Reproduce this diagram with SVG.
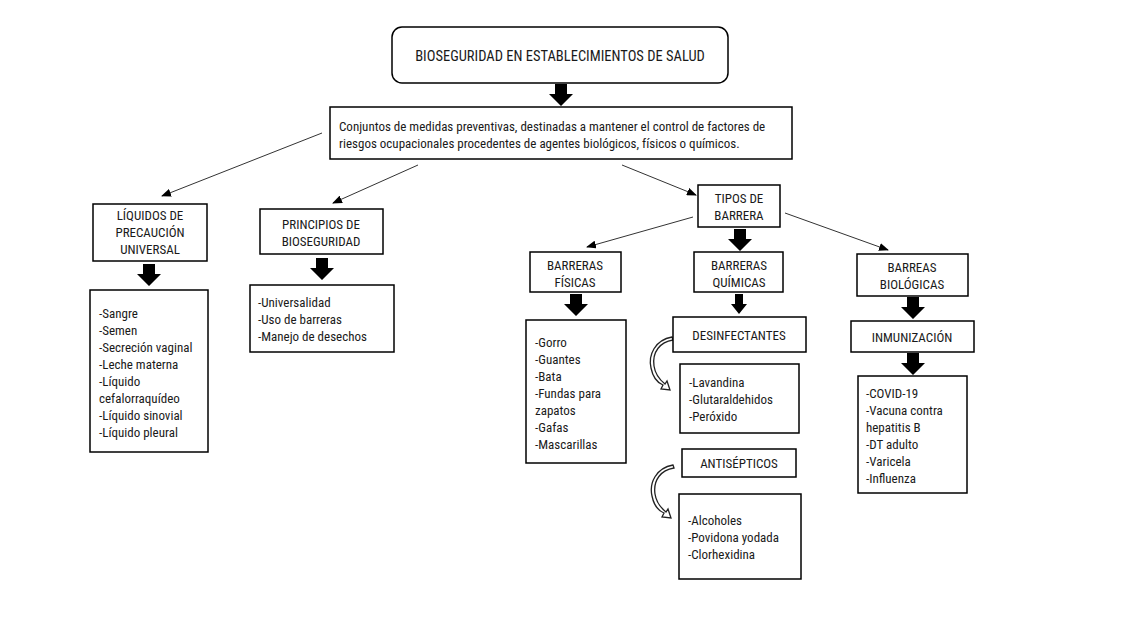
<svg xmlns="http://www.w3.org/2000/svg" width="1138" height="640" viewBox="0 0 1138 640">
<defs>
<style>
.box{fill:#fff;stroke:#000;stroke-width:1.5}
.t{font-family:"Liberation Sans Narrow","Roboto Condensed","Liberation Sans",sans-serif;font-size:13px;fill:#1a1a1a}
.big{font-size:14.5px}
.c{text-anchor:middle}
.ln{stroke:#333;stroke-width:1;fill:none}
.blk{fill:#000}
.curl{fill:#fff;stroke:#222;stroke-width:1.3}
</style>
<marker id="ah" markerWidth="10" markerHeight="8" refX="9" refY="4" orient="auto" markerUnits="userSpaceOnUse">
<path d="M0,0 L10,4 L0,8 Z" fill="#000"/>
</marker>
<path id="barrow" d="M-6,0 H6 V10 H12 L0,22 L-12,10 H-6 Z"/>
<path id="curl" d="M0,0 C-17,3 -24,18 -21,31 C-19,41 -14,46 -9,48 L-11,52 L-2,53 L-5,44 L-7,47 C-12,43 -17,36 -18,29 C-20,15 -12,5 1,3 Z"/>
</defs>
<rect width="1138" height="640" fill="#fff"/>

<g id="connectors">
<line class="ln" x1="322" y1="133" x2="162" y2="196" marker-end="url(#ah)"/>
<line class="ln" x1="418" y1="165" x2="333" y2="203" marker-end="url(#ah)"/>
<line class="ln" x1="622" y1="165" x2="696" y2="195" marker-end="url(#ah)"/>
<line class="ln" x1="693" y1="217" x2="587" y2="247" marker-end="url(#ah)"/>
<line class="ln" x1="785" y1="213" x2="888" y2="250" marker-end="url(#ah)"/>
<use href="#barrow" class="blk" x="561" y="84"/>
<use href="#barrow" class="blk" x="149" y="264"/>
<use href="#barrow" class="blk" x="322" y="258"/>
<use href="#barrow" class="blk" x="740" y="229"/>
<use href="#barrow" class="blk" x="576" y="294"/>
<path class="blk" d="M735,294 H743 V304 H747 L739,314 L731,304 H735 Z"/>
<use href="#barrow" class="blk" x="913" y="297"/>
<use href="#barrow" class="blk" x="913" y="353"/>
<use href="#curl" class="curl" x="672" y="337"/>
<use href="#curl" class="curl" x="673" y="465"/>
</g>

<g id="n-title">
<rect class="box" x="392" y="27" width="336" height="56" rx="10"/>
<text class="t c big" x="560" y="61">BIOSEGURIDAD EN ESTABLECIMIENTOS DE SALUD</text>
</g>

<g id="n-def">
<rect class="box" x="330" y="107" width="462" height="52"/>
<text class="t" x="339" y="131">Conjuntos de medidas preventivas, destinadas a mantener el control de factores de</text>
<text class="t" x="339" y="148">riesgos ocupacionales procedentes de agentes biológicos, físicos o químicos.</text>
</g>

<g id="n-liquidos">
<rect class="box" x="93" y="204" width="114" height="57"/>
<text class="t c" x="150" y="220">LÍQUIDOS DE</text>
<text class="t c" x="150" y="237">PRECAUCIÓN</text>
<text class="t c" x="150" y="254">UNIVERSAL</text>
</g>
<g id="n-liquidos-list">
<rect class="box" x="90" y="290" width="118" height="162"/>
<text class="t" x="99" y="318">-Sangre</text>
<text class="t" x="99" y="335">-Semen</text>
<text class="t" x="99" y="352">-Secreción vaginal</text>
<text class="t" x="99" y="369">-Leche materna</text>
<text class="t" x="99" y="386">-Líquido</text>
<text class="t" x="99" y="403">cefalorraquídeo</text>
<text class="t" x="99" y="420">-Líquido sinovial</text>
<text class="t" x="99" y="437">-Líquido pleural</text>
</g>

<g id="n-principios">
<rect class="box" x="260" y="209" width="123" height="45"/>
<text class="t c" x="321" y="229">PRINCIPIOS DE</text>
<text class="t c" x="321" y="246">BIOSEGURIDAD</text>
</g>
<g id="n-principios-list">
<rect class="box" x="250" y="285" width="144" height="67"/>
<text class="t" x="258" y="307">-Universalidad</text>
<text class="t" x="258" y="324">-Uso de barreras</text>
<text class="t" x="258" y="341">-Manejo de desechos</text>
</g>

<g id="n-tipos">
<rect class="box" x="698" y="185" width="82" height="42"/>
<text class="t c" x="739" y="203">TIPOS DE</text>
<text class="t c" x="739" y="220">BARRERA</text>
</g>

<g id="n-fisicas">
<rect class="box" x="530" y="252" width="91" height="40"/>
<text class="t c" x="575" y="270">BARRERAS</text>
<text class="t c" x="575" y="287">FÍSICAS</text>
</g>
<g id="n-fisicas-list">
<rect class="box" x="526" y="320" width="100" height="143"/>
<text class="t" x="535" y="347">-Gorro</text>
<text class="t" x="535" y="364">-Guantes</text>
<text class="t" x="535" y="381">-Bata</text>
<text class="t" x="535" y="398">-Fundas para</text>
<text class="t" x="535" y="415">zapatos</text>
<text class="t" x="535" y="432">-Gafas</text>
<text class="t" x="535" y="449">-Mascarillas</text>
</g>

<g id="n-quimicas">
<rect class="box" x="694" y="252" width="89" height="40"/>
<text class="t c" x="739" y="270">BARRERAS</text>
<text class="t c" x="739" y="287">QUÍMICAS</text>
</g>
<g id="n-desinf">
<rect class="box" x="673" y="317" width="133" height="35"/>
<text class="t c" x="739" y="340">DESINFECTANTES</text>
</g>
<g id="n-desinf-list">
<rect class="box" x="680" y="364" width="119" height="69"/>
<text class="t" x="689" y="387">-Lavandina</text>
<text class="t" x="689" y="404">-Glutaraldehidos</text>
<text class="t" x="689" y="421">-Peróxido</text>
</g>
<g id="n-antisep">
<rect class="box" x="682" y="449" width="114" height="28"/>
<text class="t c" x="739" y="468">ANTISÉPTICOS</text>
</g>
<g id="n-antisep-list">
<rect class="box" x="679" y="494" width="122" height="85"/>
<text class="t" x="688" y="525">-Alcoholes</text>
<text class="t" x="688" y="542">-Povidona yodada</text>
<text class="t" x="688" y="559">-Clorhexidina</text>
</g>

<g id="n-biologicas">
<rect class="box" x="857" y="254" width="111" height="42"/>
<text class="t c" x="912" y="272">BARREAS</text>
<text class="t c" x="912" y="289">BIOLÓGICAS</text>
</g>
<g id="n-inmun">
<rect class="box" x="851" y="321" width="123" height="31"/>
<text class="t c" x="912" y="342">INMUNIZACIÓN</text>
</g>
<g id="n-inmun-list">
<rect class="box" x="858" y="376" width="109" height="117"/>
<text class="t" x="866" y="398">-COVID-19</text>
<text class="t" x="866" y="415">-Vacuna contra</text>
<text class="t" x="866" y="432">hepatitis B</text>
<text class="t" x="866" y="449">-DT adulto</text>
<text class="t" x="866" y="466">-Varicela</text>
<text class="t" x="866" y="483">-Influenza</text>
</g>
</svg>
